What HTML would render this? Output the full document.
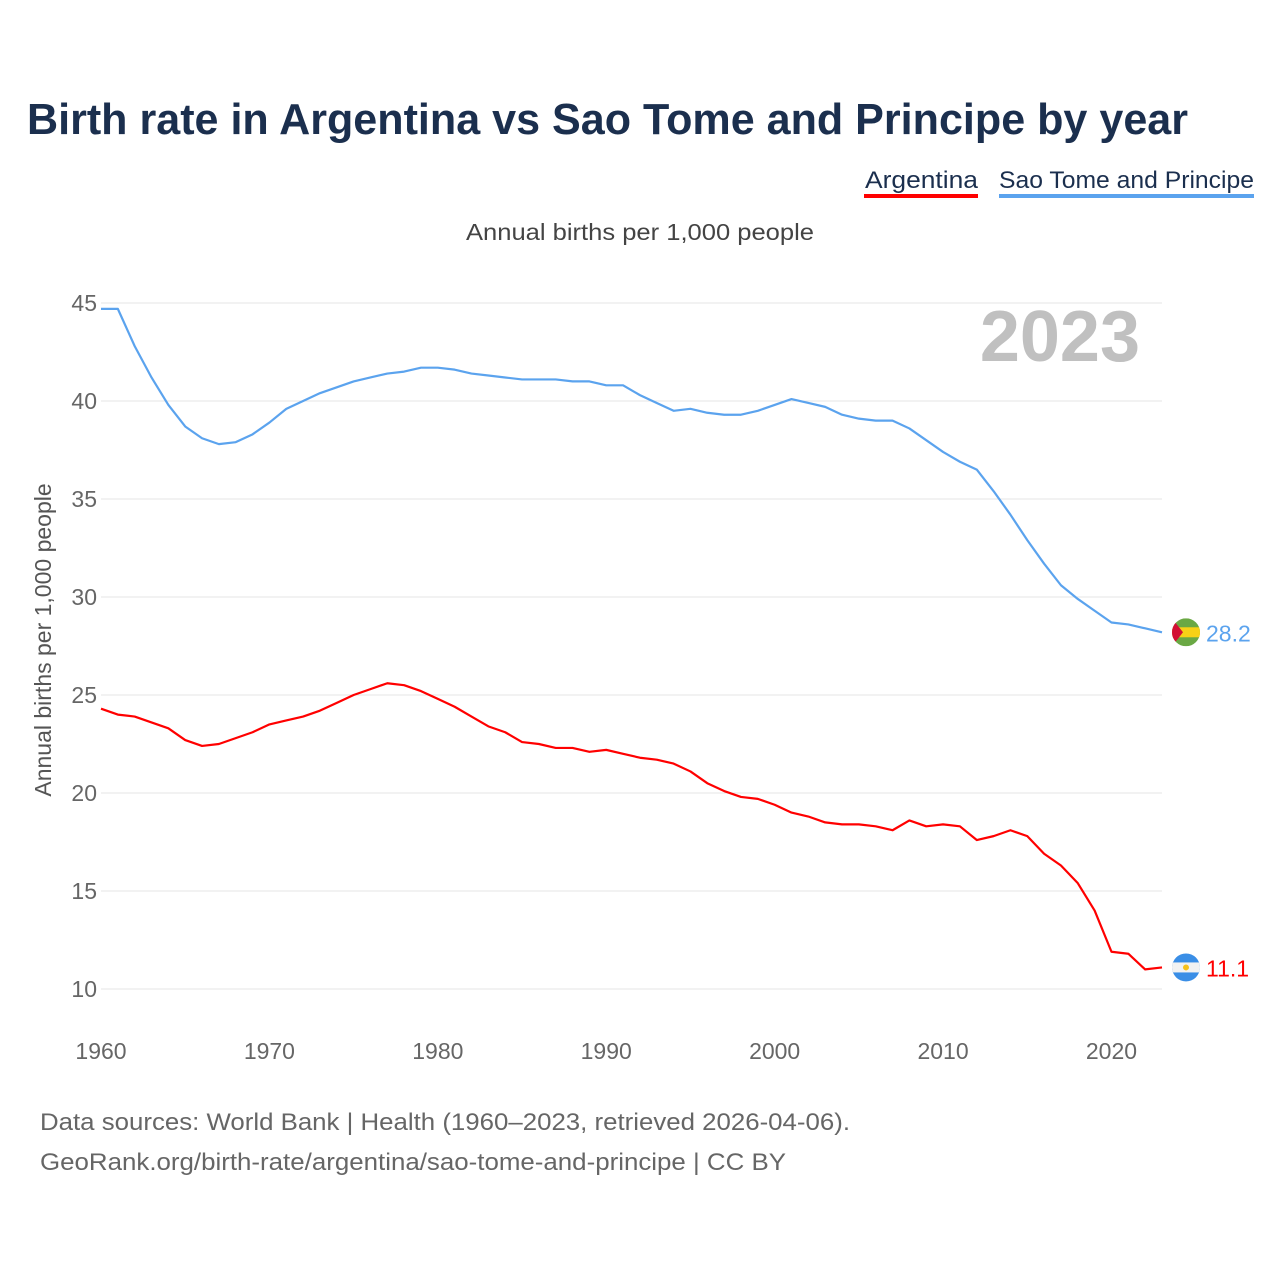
<!DOCTYPE html>
<html><head><meta charset="utf-8">
<style>
body{margin:0;width:1280px;height:1280px;background:#fff;font-family:"Liberation Sans",sans-serif;overflow:hidden}
svg{display:block}
</style></head>
<body>
<svg width="1280" height="1280" viewBox="0 0 1280 1280">
<defs>
<clipPath id="cs"><circle cx="0" cy="0" r="14"/></clipPath>
</defs>
<text x="27" y="134" font-size="44" font-weight="bold" fill="#1b2f4e" textLength="1161" lengthAdjust="spacingAndGlyphs">Birth rate in Argentina vs Sao Tome and Principe by year</text>
<g>
<text x="865" y="188" font-size="24" fill="#1b2f4e" textLength="113" lengthAdjust="spacingAndGlyphs">Argentina</text>
<rect x="864" y="194" width="114" height="4" fill="#ff0000"/>
</g>
<g>
<text x="999" y="188" font-size="24" fill="#1b2f4e" textLength="255" lengthAdjust="spacingAndGlyphs">Sao Tome and Principe</text>
<rect x="999" y="194" width="255" height="4" fill="#5ba3ee"/>
</g>
<text x="466" y="240" font-size="23" fill="#444" textLength="348" lengthAdjust="spacingAndGlyphs">Annual births per 1,000 people</text>
<text x="1140" y="361" font-size="72" font-weight="bold" fill="#c0c0c0" text-anchor="end">2023</text>
<text transform="translate(51,640) rotate(-90)" font-size="23" fill="#555" text-anchor="middle">Annual births per 1,000 people</text>
<g id="grid"></g><g id="series"></g><g id="labels"></g>
<text x="40" y="1130" font-size="24" fill="#666" textLength="810" lengthAdjust="spacingAndGlyphs">Data sources: World Bank | Health (1960–2023, retrieved 2026-04-06).</text>
<text x="40" y="1170" font-size="24" fill="#666" textLength="746" lengthAdjust="spacingAndGlyphs">GeoRank.org/birth-rate/argentina/sao-tome-and-principe | CC BY</text>
</svg>
<script>
const years=[];for(let y=1960;y<=2023;y++)years.push(y);
const argentina=[24.3,24.0,23.9,23.6,23.3,22.7,22.4,22.5,22.8,23.1,23.5,23.7,23.9,24.2,24.6,25.0,25.3,25.6,25.5,25.2,24.8,24.4,23.9,23.4,23.1,22.6,22.5,22.3,22.3,22.1,22.2,22.0,21.8,21.7,21.5,21.1,20.5,20.1,19.8,19.7,19.4,19.0,18.8,18.5,18.4,18.4,18.3,18.1,18.6,18.3,18.4,18.3,17.6,17.8,18.1,17.8,16.9,16.3,15.4,14.0,11.9,11.8,11.0,11.1];
const saoTome=[44.7,44.7,42.8,41.2,39.8,38.7,38.1,37.8,37.9,38.3,38.9,39.6,40.0,40.4,40.7,41.0,41.2,41.4,41.5,41.7,41.7,41.6,41.4,41.3,41.2,41.1,41.1,41.1,41.0,41.0,40.8,40.8,40.3,39.9,39.5,39.6,39.4,39.3,39.3,39.5,39.8,40.1,39.9,39.7,39.3,39.1,39.0,39.0,38.6,38.0,37.4,36.9,36.5,35.4,34.2,32.9,31.7,30.6,29.9,29.3,28.7,28.6,28.4,28.2];
const yTicks=[10,15,20,25,30,35,40,45];
const xTicks=[1960,1970,1980,1990,2000,2010,2020];
const NS='http://www.w3.org/2000/svg';
const X=y=>101+(y-1960)*(1162-101)/63;
const Y=v=>989-(v-10)*(989-303)/35;
function mk(t,a,p){const e=document.createElementNS(NS,t);for(const k in a)e.setAttribute(k,a[k]);p.appendChild(e);return e;}
const grid=document.getElementById('grid'),ser=document.getElementById('series'),lab=document.getElementById('labels');
yTicks.forEach(v=>{
 const l=mk('line',{x1:101,x2:1162,y1:Y(v),y2:Y(v),stroke:'#e4e4e4','stroke-width':1},grid);
 
 
 const t=mk('text',{x:97,y:Y(v)+8,'font-size':23,fill:'#666','text-anchor':'end'},lab);t.textContent=v;
 
 
});
xTicks.forEach(v=>{
 const t=mk('text',{x:X(v),y:1059,'font-size':23,fill:'#666','text-anchor':'middle'},lab);t.textContent=v;
 
 
});
function line(data,color,name){
 const p=mk('polyline',{points:data.map((v,i)=>X(years[i])+','+Y(v)).join(' '),fill:'none',stroke:color,'stroke-width':2.2,'stroke-linejoin':'round'},ser);
 
 
}
line(saoTome,'#5ba3ee','line-sao-tome');
line(argentina,'#ff0000','line-argentina');
const last=years.length-1, ex=X(years[last])+24;
const sy=Y(saoTome[last]);
const fs=mk('g',{transform:`translate(${ex},${sy})`},lab);


const fsi=mk('g',{'clip-path':'url(#cs)'},fs);
mk('rect',{x:-14,y:-14,width:28,height:28,fill:'#6aa844'},fsi);
mk('rect',{x:-14,y:-5,width:28,height:10,fill:'#f7d116'},fsi);
mk('path',{d:'M-14,-14 L-3,0 L-14,14 Z',fill:'#d21034'},fsi);
const t1=mk('text',{x:ex+20,y:sy+9,'font-size':23,fill:'#5ba3ee'},lab);t1.textContent=saoTome[last].toFixed(1);


const ay=Y(argentina[last]);
const fa=mk('g',{transform:`translate(${ex},${ay})`},lab);


const fai=mk('g',{'clip-path':'url(#cs)'},fa);
mk('rect',{x:-14,y:-14,width:28,height:28,fill:'#3a8ee6'},fai);
mk('rect',{x:-14,y:-5,width:28,height:10,fill:'#f2f2f2'},fai);
mk('circle',{cx:0,cy:0,r:3,fill:'#f6c11c'},fai);
const t2=mk('text',{x:ex+20,y:ay+9,'font-size':23,fill:'#ff0000'},lab);t2.textContent=argentina[last].toFixed(1);


</script>
</body></html>
